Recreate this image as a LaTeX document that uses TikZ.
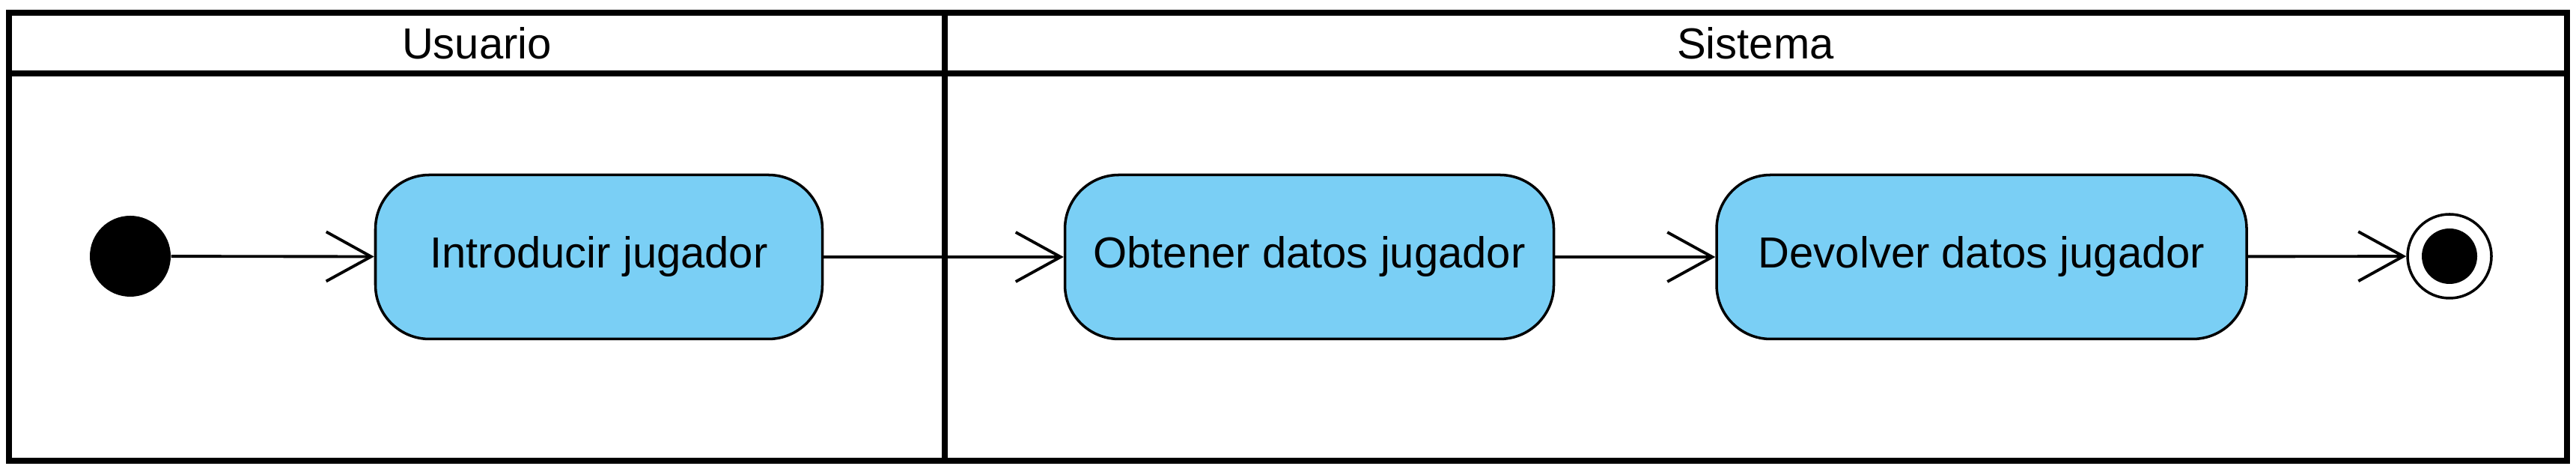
\documentclass[tikz,border=0pt]{standalone}
\usepackage{fontspec}
\setmainfont{Liberation Sans}
\usepackage{tikz}
\usetikzlibrary{arrows.meta}
\definecolor{actfill}{RGB}{122,207,245}

\begin{document}
\begin{tikzpicture}[font=\fontsize{16.5pt}{20pt}\selectfont,
    lane/.style={line width=2.3pt},
    action/.style={draw, fill=actfill, line width=1pt, rounded corners=0.72cm,
                   minimum height=2.19cm, inner sep=0pt},
    flow/.style={line width=1.1pt, -{Straight Barb[length=0.6cm, width=0.66cm, line width=1.1pt]}}]
    \useasboundingbox (0,0) rectangle (34.41,6.30);

    % swimlanes
    \draw[lane] (0.12,0.15) rectangle (34.29,6.13);
    \draw[lane] (0.12,5.32) -- (34.29,5.32);
    \draw[lane] (12.62,0.15) -- (12.62,6.13);
    \node(usu) at ( 6.37, 5.725) {Usuario};
    \node(sis) at (23.45, 5.725) {Sistema};

    \node(ini)   at ( 1.74, 2.88) [circle, fill=black, minimum size=1.08cm, inner sep=0pt] {};
    \node(intro) at ( 8.00, 2.87) [action, minimum width=5.97cm] {Introducir jugador};
    \node(obt)   at (17.49, 2.87) [action, minimum width=6.53cm] {Obtener datos jugador};
    \node(dev)   at (26.47, 2.87) [action, minimum width=7.08cm] {Devolver datos jugador};
    \node(fin)   at (32.72, 2.88) [circle, draw, line width=1pt, minimum size=1.12cm, inner sep=0pt] {};
    \node(finin) at (fin) [circle, fill=black, minimum size=0.74cm, inner sep=0pt] {};

    \draw[flow] (ini) edge (intro) (intro) edge (obt) (obt) edge (dev) (dev) edge (fin);
  \end{tikzpicture}
\end{document}
